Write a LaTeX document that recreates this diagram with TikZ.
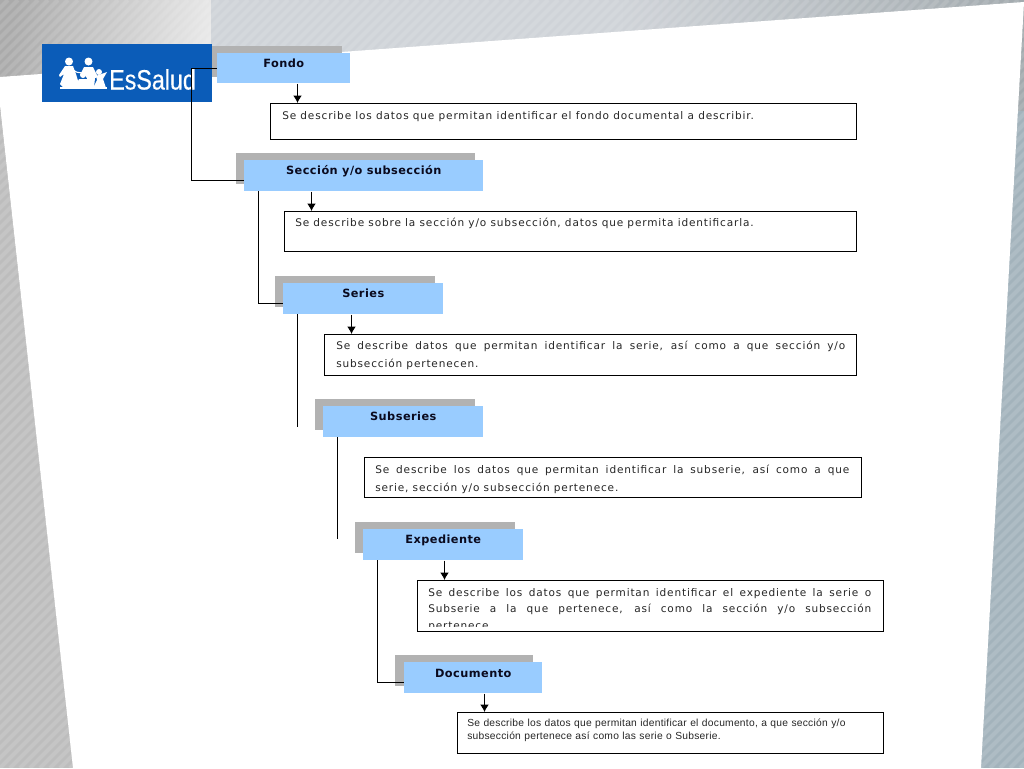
\documentclass[tikz,border=0pt]{standalone}
\usepackage{fontspec}
\setmainfont{DejaVu Sans}
\newfontfamily\logofont[FakeBold=0.4]{Liberation Sans}
\newfontfamily\smallfont[LetterSpace=2.5]{Liberation Sans}
\newfontfamily\descfont[LetterSpace=8]{DejaVu Sans}
\newfontfamily\titlefont[LetterSpace=4]{DejaVu Sans Bold}
\usetikzlibrary{arrows.meta}
\definecolor{bluebox}{HTML}{99CCFF}
\definecolor{shadowgray}{HTML}{B2B2B2}
\definecolor{logoblue}{HTML}{0B5CB8}
\definecolor{titleink}{HTML}{0A0A1E}
\definecolor{stripL}{HTML}{BDBDBD}
\definecolor{stripR}{HTML}{A3B3BC}
\definecolor{topA}{HTML}{AAAAAA}
\definecolor{topB}{HTML}{E8E8E8}
\definecolor{bandA}{HTML}{CFD3D8}
\definecolor{bandB}{HTML}{A2AAAE}
\tikzset{
  x=0.75pt,y=-0.75pt,
  shadowbox/.style={fill=shadowgray,draw=none},
  titlebox/.style={fill=bluebox,draw=none,inner sep=0pt,anchor=north west,font=\titlefont\fontsize{8.5}{10}\selectfont,text=titleink},
  descbox/.style={draw=black,fill=white,line width=0.75pt,inner sep=0pt,anchor=north west},
  desctext/.style={inner sep=0pt,anchor=north west,align=justify,font=\descfont\fontsize{7.9}{13}\selectfont,text=black!85},
  link/.style={draw=black,line width=0.8pt},
  arr/.style={draw=black,line width=0.8pt,-{Latex[length=5.5pt,width=6.5pt]}},
  stripe/.style={draw=white,opacity=0.12,line width=3pt}
}
\begin{document}
\begin{tikzpicture}
\useasboundingbox (0,0) rectangle (1024,768);
% background
\fill[stripL] (0,0) rectangle (512,768);
\fill[stripR] (512,0) rectangle (1024,768);
\shade[left color=topA,right color=topB,shading angle=80] (0,0) rectangle (211,110);
\shade[left color=bandA,right color=bandB,middle color=bandA] (211,0) rectangle (1024,110);
\begin{scope}
\clip (0,0) rectangle (1024,768);
\foreach \i in {-800,-790,...,1100} \draw[stripe] (\i,768) -- (\i+768,0);
\end{scope}
\fill[white] (0,77) -- (1024,2) -- (981,768) -- (73,768) -- (0,105) -- cycle;
% logo
\fill[shadowgray] (208,46) rectangle (342,77);
\fill[logoblue] (42,44) rectangle (212,102);
\begin{scope}[white]
\fill (69,61.5) circle (4);
\fill (88.5,61.5) circle (4);
\fill (99,72) circle (3);
\fill (83,75) circle (3);
\fill (65,66) -- (73,66) -- (76,74) -- (79,84) -- (75,88) -- (64,88) -- (60,84) -- (64,74) -- (60,77) -- (59,75) -- cycle;
\fill (84,67) -- (93,67) -- (98,77) -- (95,78) -- (94,88) -- (90,88) -- (88,80) -- (85,75) -- (80,75) -- cycle;
\fill (79,79) -- (88,79) -- (92,88) -- (75,88) -- cycle;
\fill (96,76) -- (107,72) -- (103,79) -- (106,88) -- (93,88) -- (97,80) -- cycle;
\draw[line width=0.8pt] (73,70) .. controls (78,75) and (84,70) .. (92,78);
\fill (60,87) rectangle (107,89);
\end{scope}
\node[inner sep=0pt,anchor=base west,text=white,font=\logofont\fontsize{21}{21}\selectfont] (logo) at (109,89.5) {\scalebox{0.83}[1]{EsSalud}};
% shadows
\fill[shadowbox] (236,153) rectangle (475,184);
\fill[shadowbox] (275,276) rectangle (435,307);
\fill[shadowbox] (315,399) rectangle (475,430);
\fill[shadowbox] (355,522) rectangle (515,553);
\fill[shadowbox] (395,655) rectangle (533,686);
% title boxes
\tikzset{tb/.style 2 args={titlebox,minimum width=#1*0.75pt,minimum height=#2*0.75pt}}
\node[tb={133}{30}] (fondo) at (217,53) {\raisebox{7.5pt}{Fondo}};
\node[tb={239}{31}] (seccion) at (244,160) {\raisebox{8pt}{Sección y/o subsección}};
\node[tb={160}{31}] (series) at (283,283) {\raisebox{8pt}{Series}};
\node[tb={160}{31}] (subseries) at (323,406) {\raisebox{8pt}{Subseries}};
\node[tb={160}{31}] (expediente) at (363,529) {\raisebox{8pt}{Expediente}};
\node[tb={138}{31}] (documento) at (404,662) {\raisebox{6pt}{Documento}};
% description boxes
\tikzset{db/.style 2 args={descbox,minimum width=#1*0.75pt,minimum height=#2*0.75pt}}
\node[db={586}{36}] (d1) at (270,103) {};
\node[db={572}{40}] (d2) at (284,211) {};
\node[db={532}{41}] (d3) at (324,334) {};
\node[db={497}{40}] (d4) at (364,457) {};
\node[db={466}{51}] (d5) at (417,580) {};
\node[db={426}{41}] (d6) at (457,712) {};
% description texts
\node[desctext] (t1) at (282,111) {\mbox{Se describe los datos que permitan identificar el fondo documental a describir.}};
\node[desctext] (t2) at (295,218) {\mbox{Se describe sobre la sección y/o subsección, datos que permita  identificarla.}};
\node[desctext,text width=381.75pt] (t3) at (336,341) {Se describe datos que permitan identificar la serie, así como a que sección y/o\linebreak subsección pertenecen.};
\node[desctext,text width=355.5pt] (t4) at (375,465) {Se describe los datos que permitan identificar la subserie, así como a que\linebreak serie, sección y/o subsección pertenece.};
\coordinate (clipend) at (883,626.5);
\begin{scope}
\clip (d5.north west) rectangle (clipend);
\node[desctext,text width=332.25pt,font=\descfont\fontsize{7.9}{12.4}\selectfont] (t5) at (428,588) {Se describe los datos que permitan identificar el expediente la serie o\linebreak Subserie a la que pertenece, así como la sección y/o subsección\linebreak pertenece.};
\end{scope}
\node[desctext,text width=300pt,font=\smallfont\fontsize{7.7}{9.8}\selectfont,align=left] (t6) at (467,719) {Se describe los datos que permitan identificar el documento, a que sección y/o\\subsección pertenece así como las serie o Subserie.};
% connectors
\coordinate (v1) at (191.5,68.5);
\coordinate (v1b) at (191.5,180.5);
\coordinate (v2) at (258.5,191);
\coordinate (v2b) at (258.5,303.5);
\coordinate (v3) at (297.5,314);
\coordinate (v3e) at (297.5,427);
\coordinate (v4) at (337.5,437);
\coordinate (v4e) at (337.5,539);
\coordinate (v5) at (377.5,560);
\coordinate (v5b) at (377.5,682.5);
\draw[link] (fondo.west |- v1) -- (v1) -- (v1b) -- (seccion.west |- v1b);
\draw[link] (v2) -- (v2b) -- (series.west |- v2b);
\draw[link] (v3) -- (v3e);
\draw[link] (v4) -- (v4e);
\draw[link] (v5) -- (v5b) -- (documento.west |- v5b);
\coordinate (a1) at (297.5,0);
\coordinate (a2) at (311.5,0);
\coordinate (a3) at (351.5,0);
\coordinate (a5) at (444.5,0);
\coordinate (a6) at (484.5,0);
\draw[arr] (fondo.south -| a1) -- (d1.north -| a1);
\draw[arr] (seccion.south -| a2) -- (d2.north -| a2);
\draw[arr] (series.south -| a3) -- (d3.north -| a3);
\draw[arr] (expediente.south -| a5) -- (d5.north -| a5);
\draw[arr] (documento.south -| a6) -- (d6.north -| a6);
\end{tikzpicture}
\end{document}
